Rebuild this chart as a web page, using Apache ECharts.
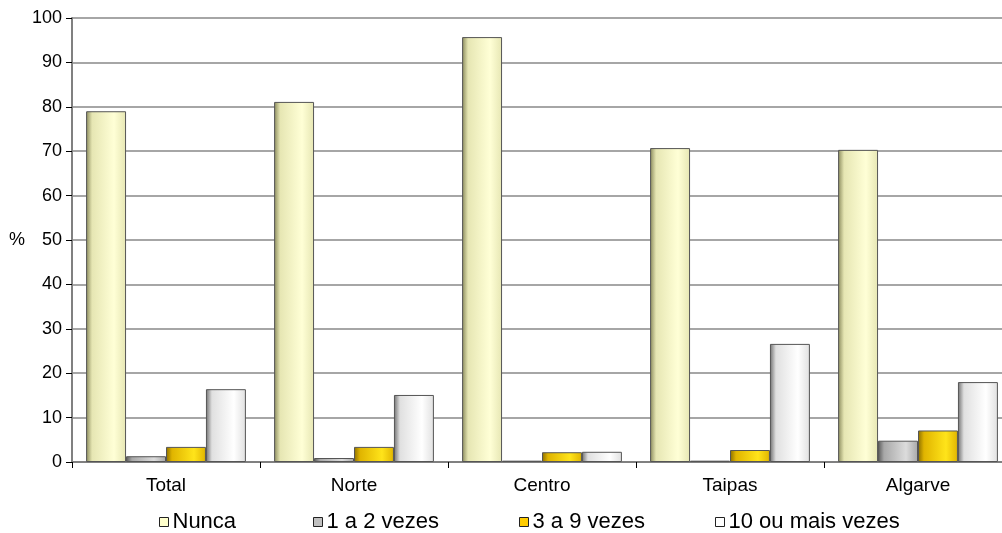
<!DOCTYPE html>
<html><head><meta charset="utf-8">
<script src="https://cdn.jsdelivr.net/npm/echarts@6/dist/echarts.min.js"></script>
<style>html,body{margin:0;padding:0;background:#fff}#c{width:1002px;height:533px}</style>
</head><body><div id="c"></div>
<script>
const categories = ['Total', 'Norte', 'Centro', 'Taipas', 'Algarve'];
const seriesNames = ['Nunca', '1 a 2 vezes', '3 a 9 vezes', '10 ou mais vezes'];
const nunca = [79, 81.1, 95.7, 70.7, 70.3];
const vezes1a2 = [1.3, 0.9, 0.3, 0.3, 4.8];
const vezes3a9 = [3.4, 3.4, 2.2, 2.7, 7.1];
const vezes10 = [16.4, 15.1, 2.3, 26.6, 18];
const yTicks = [0, 10, 20, 30, 40, 50, 60, 70, 80, 90, 100];

function grad(dark, mid, light) {
  return new echarts.graphic.LinearGradient(0, 0, 1, 0, [
    {offset: 0, color: dark}, {offset: 0.15, color: mid}, {offset: 0.7, color: light}, {offset: 1, color: mid}
  ]);
}
const styles = [
  {fill: grad('#8a8a5c', '#e6e6b3', '#ffffd6'), icon: '#ffffcc'},
  {fill: grad('#5a5a5a', '#a8a8a8', '#dcdcdc'), icon: '#c0c0c0'},
  {fill: grad('#8a6d00', '#e0b400', '#ffe41a'), icon: '#ffcc00'},
  {fill: grad('#707070', '#e0e0e0', '#ffffff'), icon: '#ffffff'}
];
const data = [nunca, vezes1a2, vezes3a9, vezes10];
const legendLeft = [159, 313, 519, 715];

const chart = echarts.init(document.getElementById('c'));
chart.setOption({
  animation: false,
  grid: {left: 72, width: 940, top: 18, height: 444, outerBoundsMode: 'none', containLabel: false},
  legend: seriesNames.map((n, i) => ({
    top: 511, left: legendLeft[i], itemWidth: 9, itemHeight: 9, itemGap: 0, padding: 0,
    textStyle: {fontFamily: 'Liberation Sans', fontSize: 22, color: '#000', padding: [0, 0, 0, -1]},
    data: [{name: n, icon: 'rect', itemStyle: {color: styles[i].icon, borderColor: '#222', borderWidth: 1}}]
  })),
  xAxis: {
    type: 'category', data: categories,
    axisLine: {lineStyle: {color: '#808080', width: 2}},
    axisTick: {show: true, length: 6, lineStyle: {color: '#000', width: 1}},
    axisLabel: {fontFamily: 'Liberation Sans', fontSize: 19, color: '#000', margin: 14}
  },
  yAxis: {
    type: 'value', min: 0, max: 100, interval: 10,
    name: '%', nameLocation: 'middle', nameRotate: 0, nameGap: 47,
    nameTextStyle: {fontFamily: 'Liberation Sans', fontSize: 18, color: '#000'},
    axisLine: {show: true, lineStyle: {color: '#808080', width: 2}},
    axisTick: {show: true, length: 6, lineStyle: {color: '#000', width: 1}},
    axisLabel: {fontFamily: 'Liberation Sans', fontSize: 18, color: '#000', margin: 10,
      formatter: v => yTicks.includes(v) ? String(v) : ''},
    splitLine: {lineStyle: {color: '#a6a6a6', width: 2}}
  },
  series: data.map((d, i) => ({
    name: seriesNames[i], type: 'bar', data: d,
    barGap: '0%', barCategoryGap: '15%',
    itemStyle: {color: styles[i].fill, borderColor: '#555', borderWidth: 1}
  }))
});
</script></body></html>
